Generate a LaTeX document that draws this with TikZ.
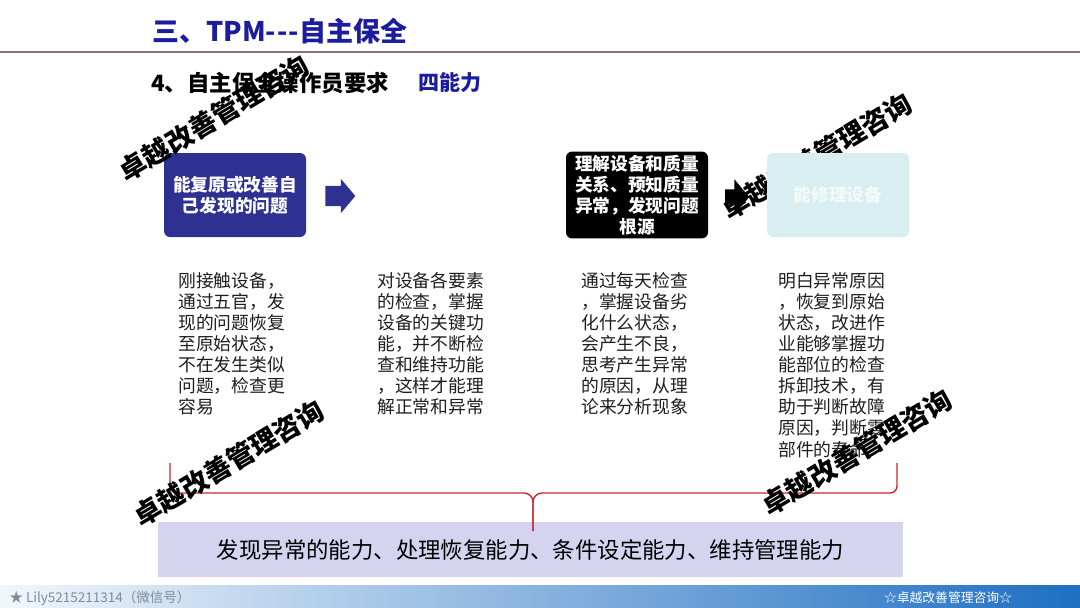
\documentclass[tikz,border=0pt]{standalone}
\usepackage{fontspec}
\setmainfont{Noto Sans CJK SC}
\usetikzlibrary{shapes.arrows}
\definecolor{titleblue}{HTML}{1C1C9E}
\definecolor{rulebrown}{HTML}{9A6B70}
\definecolor{capblue}{HTML}{2E3192}
\definecolor{capcyan}{HTML}{D9EEF0}
\definecolor{capcyantext}{HTML}{F2FAFA}
\definecolor{bracered}{HTML}{C8282E}
\definecolor{sumlilac}{HTML}{D5D4F0}
\definecolor{bodygray}{HTML}{1E1E1E}
\definecolor{footlight}{HTML}{F2F7FC}
\definecolor{footmid}{HTML}{A9CDEA}
\definecolor{footdark}{HTML}{1F6FC2}
\definecolor{footgray}{HTML}{7F8C99}
\newcommand{\fsz}[2]{\fontsize{#1}{#2}\selectfont}

\begin{document}
\begin{tikzpicture}[x=1pt,y=-1pt,
 capbox/.style={rounded corners=6pt,minimum width=142pt,minimum height=84pt,align=center,text=white,font=\bfseries\fsz{17.7}{21}},
 coltext/.style={anchor=north west,align=left,inner sep=0pt,text=bodygray,font=\fsz{17.8}{21.1}},
 flowarrow/.style={single arrow,single arrow head extend=7pt,single arrow tip angle=100,inner xsep=0pt,inner ysep=10pt,minimum height=30pt},
 wmark/.style={rotate=31,inner sep=0pt,font=\bfseries\fsz{27}{27}}]
\useasboundingbox (0,0) rectangle (1080,608);
% heading
\node[anchor=west,inner sep=0pt,text=titleblue,font=\bfseries\fsz{27}{27}] (title) at (152,31) {三、TPM-\kern1pt-\kern1pt-\kern1pt自主保全};
\draw[rulebrown,line width=1.3pt] (0,52) -- (1080,52);
\node[anchor=west,inner sep=0pt,font=\bfseries\fsz{22.4}{22.4}] (sub) at (151,83) {4、自主保全操作员要求};
\node[anchor=west,inner sep=0pt,text=titleblue,font=\bfseries\fsz{21}{21}] (four) at (418,83) {四能力};
% watermark behind the last box
\node[wmark] (wm2) at (817,156) {卓越改善管理咨询};
% the four abilities
\node[capbox,fill=capblue] (ab1) at (235,195) {能复原或改善自\\己发现的问题};
\node[capbox,fill=black] (ab3) at (637,195) {理解设备和质量\\关系、预知质量\\异常，发现问题\\根源};
\node[capbox,fill=capcyan,text=capcyantext] (ab4) at (838,195) {能修理设备};
\node[flowarrow,fill=capblue] (arr1) at (336,196) {};
\node[flowarrow,fill=black,minimum height=24pt,inner ysep=7.5pt,single arrow head extend=10pt] (arr2) at (734,197) {};
\node[coltext] (d1) at (178,272) {刚接触设备，\\通过五官，发\\现的问题恢复\\至原始状态，\\不在发生类似\\问题，检查更\\容易};
\node[coltext] (d2) at (377,272) {对设备各要素\\的检查，掌握\\设备的关键功\\能，并不断检\\查和维持功能\\，这样才能理\\解正常和异常};
\node[coltext] (d3) at (581,272) {通过每天检查\\，掌握设备劣\\化什么状态，\\会产生不良，\\思考产生异常\\的原因，从理\\论来分析现象};
\node[coltext] (d4) at (778,272) {明白异常原因\\，恢复到原始\\状态，改进作\\业能够掌握功\\能部位的检查\\拆卸技术，有\\助于判断故障\\原因，判断零\\部件的寿命};
% summary
\node[fill=sumlilac,minimum width=745pt,minimum height=55pt,font=\fsz{22.4}{22.4}] (sum) at (530.5,549.5) {发现异常的能力、处理恢复能力、条件设定能力、维持管理能力};
\coordinate (bl) at (170,463);\coordinate (br) at (897,463);\coordinate (tip) at (533,531);
\draw[bracered,line width=1.4pt] (bl) -- (170,486) to[out=-90,in=180] (177,493) -- (524,493) to[out=0,in=90] (533,502) -- (tip);
\draw[bracered,line width=1.4pt] (tip) -- (533,502) to[out=90,in=180] (542,493) -- (890,493) to[out=0,in=-90] (897,486) -- (br);
% footer
\shade[left color=footlight,middle color=footmid,right color=footdark] (0,585) rectangle (1080,608);
\node[anchor=west,text=footgray,font=\fsz{13.5}{13.5}] (wechat) at (6,598) {★ Lily5215211314（微信号）};
\node[text=white,font=\fsz{12.8}{12.8}] (brand) at (948,598) {☆卓越改善管理咨询☆};
% watermarks
\node[wmark] (wm1) at (214,118) {卓越改善管理咨询};
\node[wmark] (wm3) at (229,463) {卓越改善管理咨询};
\node[wmark] (wm4) at (857,452) {卓越改善管理咨询};
\end{tikzpicture}
\end{document}
